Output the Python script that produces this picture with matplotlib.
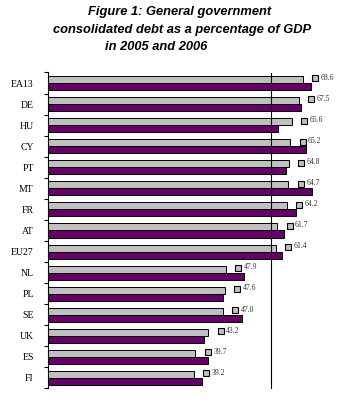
import numpy as np
import matplotlib.pyplot as plt

# data
countries = ['EA13', 'DE', 'HU', 'CY', 'PT', 'MT', 'FR', 'AT', 'EU27',
             'NL', 'PL', 'SE', 'UK', 'ES', 'FI']
debt_grey = [68.6, 67.5, 65.6, 65.2, 64.8, 64.7, 64.2, 61.7, 61.4,
             47.9, 47.6, 47.0, 43.2, 39.7, 39.2]
debt_purple = [70.7, 68.0, 61.8, 69.4, 64.0, 71.1, 66.7, 63.6, 62.9,
               52.7, 47.2, 52.3, 42.1, 43.2, 41.6]
ref_level = 60

title_lines = ['Figure 1: General government',
               'consolidated debt as a percentage of GDP',
               'in 2005 and 2006']

grey = '#c0c0c0'
purple = '#660066'

fig = plt.figure(figsize=(3.5, 4.04), dpi=100)
ax = fig.add_axes([47.7/350, 1 - 388.5/404, 297.6/350, 316/404])

y = np.arange(len(countries))
h = 0.333
ax.barh(y - h/2, debt_grey, height=h, color=grey, edgecolor='black', linewidth=0.7)
ax.barh(y + h/2, debt_purple, height=h, color=purple, edgecolor='black', linewidth=0.7)

ax.axvline(ref_level, color='black', linewidth=0.8)

# value labels with little grey key square
for yi, v in zip(y, debt_grey):
    mx = v + 3.3
    ax.plot(mx, yi - 0.22, marker='s', markersize=4.5, markerfacecolor=grey,
            markeredgecolor='black', markeredgewidth=0.8, clip_on=False)
    ax.text(mx + 1.5, yi - 0.25, f'{v:.1f}', fontsize=5.5, family='Liberation Serif',
            color='#333333', va='center', ha='left')

ax.set_xlim(0, 80)
ax.set_ylim(len(countries) - 0.5, -0.5)

# ticks sit between groups, labels centred on groups
ax.set_yticks(np.arange(-0.5, len(countries), 1))
ax.set_yticklabels([])
ax.set_yticks(y, minor=True)
ax.set_yticklabels(countries, minor=True, fontsize=7, family='Liberation Serif')
ax.tick_params(axis='y', which='major', length=3, width=0.8, direction='out')
ax.tick_params(axis='y', which='minor', length=0, pad=10)
for lab in ax.get_yticklabels(minor=True):
    lab.set_horizontalalignment('right')

ax.set_xticks([])
for s in ['top', 'right', 'bottom']:
    ax.spines[s].set_visible(False)
ax.spines['left'].set_linewidth(0.8)

# title, three separate lines as in the original
title_x = [180, 182.5, 156]
title_y = [12, 29.5, 46.5]
for txt, tx, ty in zip(title_lines, title_x, title_y):
    fig.text(tx/350, 1 - ty/404, txt, fontsize=9.3, family='Liberation Sans',
             weight='bold', style='italic', ha='center', va='center')

fig.savefig('out.png', dpi=100, facecolor='white')
